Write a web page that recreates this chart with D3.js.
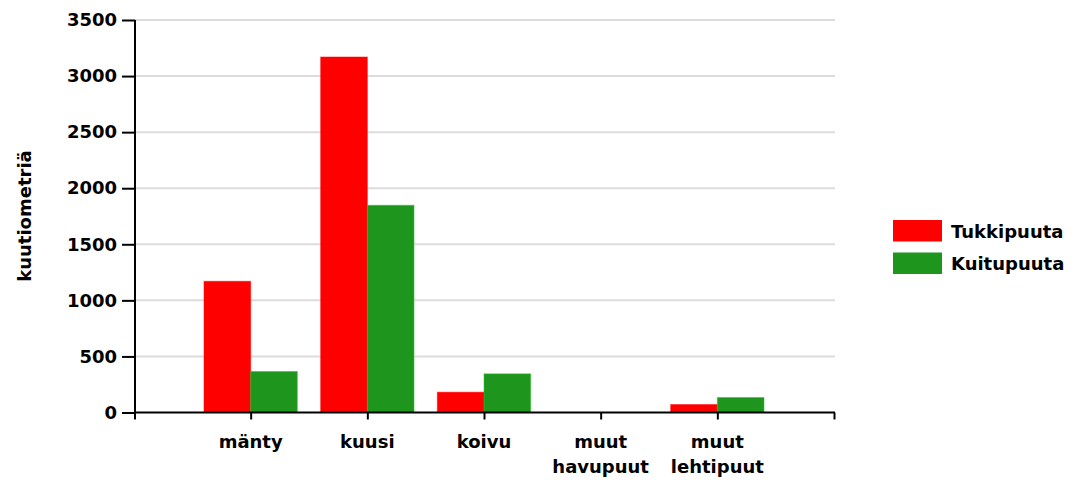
<!DOCTYPE html>
<html><head><meta charset="utf-8">
<script src="https://cdn.jsdelivr.net/npm/d3@7"></script>
<style>
body{margin:0;background:#fff;}
text{font-family:"DejaVu Sans",Verdana,sans-serif;font-weight:bold;fill:#000;}
</style></head>
<body><svg id="c" width="1073" height="483"></svg>
<script>
const categories = [["mänty"],["kuusi"],["koivu"],["muut","havupuut"],["muut","lehtipuut"]];
const seriesNames = ["Tukkipuuta","Kuitupuuta"];
const seriesColors = ["#ff0000","#1e961e"];
const tukkipuuta = [1170, 3170, 181, 0, 71];
const kuitupuuta = [366, 1848, 345, 0, 134];
const yTicks = [0,500,1000,1500,2000,2500,3000,3500];
const yLabel = "kuutiometriä";

(function(){
const FS = "18px";
const svg = d3.select("#c");
const mL = 135, mR = 835, mT = 20, mB = 412.5;
const x = d3.scaleLinear().domain([0, categories.length + 1]).range([mL - 1, mR - 1]);
const y = d3.scaleLinear().domain([0, 3500]).range([mB, mT]);
const step = x(1) - x(0);
const bw = step * 0.4;

// gridlines
svg.append("g").selectAll("line").data(yTicks.filter(d=>d>0)).join("line")
  .attr("x1", mL).attr("x2", mR).attr("y1", d=>y(d)).attr("y2", d=>y(d))
  .attr("stroke", "#dcdcdc").attr("stroke-width", 2);

// bars
const series = [tukkipuuta, kuitupuuta];
series.forEach((vals, si) => {
  svg.append("g").selectAll("rect").data(vals).join("rect")
    .attr("x", (d,i) => x(i+1) - bw + si*bw)
    .attr("width", bw)
    .attr("y", d => y(d))
    .attr("height", d => y(0) - y(d))
    .attr("fill", seriesColors[si])
    .attr("stroke", d3.color(seriesColors[si]).brighter(0.8))
    .attr("stroke-opacity", 0.5)
    .attr("stroke-width", 1);
});

// y axis
const yAxis = svg.append("g").attr("transform", `translate(${mL},0)`)
  .call(d3.axisLeft(y).tickValues(yTicks).tickSize(13).tickPadding(5).tickFormat(d3.format("d")));
yAxis.select(".domain").attr("d", `M0,${mT}V${mB+7}`).attr("stroke", "#000").attr("stroke-width", 2);
yAxis.selectAll(".tick line").attr("stroke", "#000").attr("stroke-width", 2);
yAxis.selectAll("text").style("font-size", FS).style("font-family", "DejaVu Sans").style("font-weight","bold").attr("fill","#000");

// x axis
const xAxis = svg.append("g").attr("transform", `translate(0,${mB})`)
  .call(d3.axisBottom(x).tickValues(d3.range(1, categories.length + 2)).tickSize(7).tickFormat(""));
xAxis.select(".domain").attr("d", `M${mL},0H${mR}`).attr("stroke", "#000").attr("stroke-width", 2);
xAxis.selectAll(".tick line").attr("stroke", "#000").attr("stroke-width", 2);

// category labels
const lab = svg.append("g").selectAll("text").data(categories).join("text")
  .attr("x", (d,i) => x(i+1)).attr("y", 448)
  .attr("text-anchor", "middle").style("font-size", FS);
lab.selectAll("tspan").data(d=>d).join("tspan")
  .attr("x", function(){ return this.parentNode.getAttribute("x"); })
  .attr("dy", (d,i) => i === 0 ? 0 : 25)
  .text(d=>d);

// y label
svg.append("text").attr("transform", "translate(31,216) rotate(-90)")
  .attr("text-anchor", "middle").style("font-size", FS).text(yLabel);

// legend
const lg = svg.append("g");
seriesNames.forEach((n, i) => {
  lg.append("rect").attr("x", 893).attr("y", 220 + i*32.5).attr("width", 49).attr("height", 21.5)
    .attr("fill", seriesColors[i]);
  lg.append("text").attr("x", 951).attr("y", 237.5 + i*32.5).style("font-size", FS).text(n);
});
})();
</script></body></html>
